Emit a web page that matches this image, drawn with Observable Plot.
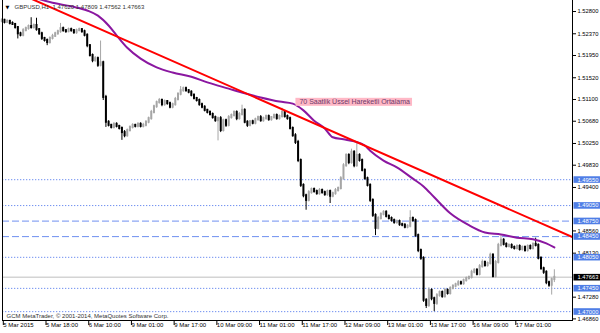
<!DOCTYPE html>
<html><head><meta charset="utf-8">
<script src="https://cdn.jsdelivr.net/npm/d3@7"></script>
<script src="https://cdn.jsdelivr.net/npm/@observablehq/plot@0.6"></script>
<style>body{margin:0;background:#fff}svg{display:block}</style>
</head><body><div id="chart"></div>
<script>
// ---- data (GBPUSD H1, 5 Mar 2015 – 17 Mar 2015) ----
const firstOpen = 1.5261;
const closes = [
1.5263,1.5259,1.5261,1.5257,1.5255,1.5249,1.5237,1.5234,1.5243,1.5247,1.5251,1.5249,1.5253,1.5245,1.5237,1.5228,
1.5224,1.5220,1.5228,1.5232,1.5237,1.5241,1.5247,1.5243,1.5241,1.5245,1.5243,1.5239,1.5243,1.5245,1.5241,1.5234,
1.5214,1.5195,1.5185,1.5189,1.5176,1.5181,1.5114,1.5066,1.5060,1.5056,1.5062,1.5058,1.5054,1.5046,1.5040,1.5050,
1.5056,1.5060,1.5058,1.5062,1.5058,1.5060,1.5066,1.5073,1.5085,1.5096,1.5104,1.5108,1.5100,1.5106,1.5102,1.5095,
1.5100,1.5110,1.5120,1.5127,1.5131,1.5127,1.5124,1.5118,1.5112,1.5108,1.5100,1.5095,1.5089,1.5085,1.5081,1.5075,
1.5069,1.5073,1.5050,1.5069,1.5060,1.5075,1.5079,1.5085,1.5073,1.5081,1.5089,1.5066,1.5060,1.5067,1.5064,1.5071,
1.5075,1.5069,1.5073,1.5077,1.5071,1.5075,1.5079,1.5073,1.5077,1.5085,1.5077,1.5073,1.5054,1.5040,1.5027,1.4992,
1.4944,1.4924,1.4915,1.4930,1.4936,1.4932,1.4928,1.4934,1.4930,1.4926,1.4932,1.4923,1.4928,1.4934,1.4938,1.4957,
1.4982,1.5002,1.4988,1.5008,1.4982,1.5002,1.4992,1.4973,1.4957,1.4944,1.4915,1.4886,1.4861,1.4880,1.4888,1.4892,
1.4884,1.4880,1.4876,1.4872,1.4874,1.4868,1.4867,1.4863,1.4865,1.4880,1.4876,1.4847,1.4818,1.4803,1.4722,1.4712,
1.4741,1.4725,1.4716,1.4731,1.4737,1.4729,1.4741,1.4735,1.4745,1.4749,1.4752,1.4756,1.4754,1.4760,1.4764,1.4766,
1.4776,1.4780,1.4772,1.4787,1.4795,1.4789,1.4793,1.4809,1.4768,1.4795,1.4828,1.4838,1.4830,1.4826,1.4828,1.4824,
1.4822,1.4826,1.4820,1.4824,1.4818,1.4826,1.4822,1.4830,1.4828,1.4803,1.4783,1.4776,1.4756,1.4751,1.4762,1.47663
];
// wick lengths above / below the candle body, in pips
const upWickPips = [
3,2,3,2,3,2,2,3,4,3,3,17,3,14,2,3, 2,3,3,4,3,3,10,3,2,3,3,2,3,3,2,3,
3,2,3,4,3,42,3,4,3,2,3,3,2,3,4,3, 3,3,2,3,3,4,3,3,4,3,3,4,3,3,2,3,
3,4,3,8,3,3,2,3,3,2,3,3,3,2,3,3, 3,3,4,3,3,4,3,3,3,4,10,3,3,2,3,3,
3,4,3,3,3,2,3,3,3,8,3,3,3,3,4,4, 3,3,3,4,3,3,3,4,3,3,3,3,3,4,3,4,
4,3,3,6,3,23,3,3,3,3,3,3,3,4,3,3, 3,3,3,3,3,3,3,3,3,15,3,3,3,3,3,3,
5,3,3,4,3,3,4,3,3,3,3,4,3,3,3,3, 4,3,3,4,5,3,3,4,3,4,4,8,3,3,3,3,
3,3,3,3,3,3,3,3,12,3,3,3,3,3,3,14.6
];
const downWickPips = [
3,3,2,3,2,3,10,3,3,2,3,3,3,3,3,4, 3,6,3,3,2,3,3,3,3,2,3,3,3,2,3,3,
4,3,4,3,4,3,6,10,3,3,3,3,3,15,4,3, 3,3,3,3,3,3,3,3,3,3,3,3,4,3,3,3,
3,3,3,3,3,3,3,3,3,3,3,3,3,3,3,3, 3,39,4,3,4,3,3,3,4,3,3,3,4,3,3,3,
3,3,3,3,3,3,3,3,3,3,3,3,3,3,4,4, 4,4,19,3,3,3,3,3,3,3,3,14,3,3,3,3,
3,3,4,3,4,3,3,3,3,3,4,4,14,3,3,3, 3,3,3,3,3,3,3,3,3,3,3,3,4,4,4,6,
4,4,16,4,3,3,3,3,3,3,3,3,3,3,3,3, 3,3,3,3,3,3,3,3,3,3,3,3,3,3,3,3,
3,3,3,3,3,3,3,3,3,3,3,4,4,4,19,5.8
];
// 70-hour exponential moving average
const emaBars   = [14,19,26,32,36,40,43,47,52,58,64,71,77,85,91,97,104,109,113,117,121,124,128,132,136,138,143,148,154,158,162,168,175,181,187,193,199,204,207];
const emaValues = [1.5304,1.5297,1.5290,1.5282,1.5272,1.5253,1.5234,1.5210,1.5189,1.5172,1.5162,1.5154,1.5143,1.5131,1.5122,1.5114,1.5106,1.5102,1.5089,1.5069,1.5054,1.5037,1.5033,1.5029,1.5021,1.5011,1.4992,1.4979,1.4957,1.4942,1.4921,1.4890,1.4867,1.4853,1.4849,1.4843,1.4840,1.4832,1.4824];
// red trend line
const trendBars = [10, 213.8];
const trendValues = [1.5307, 1.4844];
// horizontal levels
const dottedLevels = [1.4955, 1.4905, 1.4805, 1.4745, 1.4700];
const dashedLevels = [1.4875, 1.4845];
const lastPrice = 1.47663;
// axes (labels that sit fully behind a level box are left out)
const priceTicks = [1.5280,1.5237,1.5195,1.5152,1.5110,1.5068,1.5025,1.4983,1.4940,1.4856,1.4813,1.4728,1.4686];
const timeTickBars = [0,16,32,48,64,80,96,112,128,144,160,176,192];
const timeLabels = ["5 Mar 2015","5 Mar 18:00","6 Mar 10:00","9 Mar 01:00","9 Mar 17:00","10 Mar 09:00","11 Mar 01:00","11 Mar 17:00","12 Mar 09:00","13 Mar 01:00","13 Mar 17:00","16 Mar 09:00","17 Mar 01:00"];
const headerText = "GBPUSD,H1  1.47620 1.47809 1.47562 1.47663";
const maLabel = "70 Saatlik Üssel Hareketli Ortalama";
const maLabelAt = {bar: 111.5, price: 1.5105};
const copyright = "GCM MetaTrader, © 2001-2014, MetaQuotes Software Corp.";

// ---- build table ----
const bars = closes.map((c, i) => {
  const o = i === 0 ? firstOpen : closes[i - 1];
  return {i, o, c,
    h: Math.max(o, c) + upWickPips[i] * 0.0001,
    l: Math.min(o, c) - downWickPips[i] * 0.0001,
    up: c >= o};
});
const ema = emaBars.map((b, k) => ({b, v: emaValues[k]}));
const trend = trendBars.map((b, k) => ({b, v: trendValues[k]}));
const fmt = d3.format(".5f");
const FONT = "Liberation Sans, Arial, sans-serif";
const BULL = "#a6a6a6", BEAR = "#000000";
const LVL = "#6f8ff0";

const svg = Plot.plot({
  width: 600, height: 333,
  marginLeft: 2, marginRight: 28, marginTop: 0, marginBottom: 13,
  style: {fontFamily: FONT, background: "#fff", overflow: "visible"},
  x: {domain: [0.26, 213.8], axis: null},
  y: {domain: [1.46829, 1.53013], axis: null},
  marks: [
    Plot.ruleY(dottedLevels, {stroke: LVL, strokeWidth: 1, strokeDasharray: "1.3,1.7"}),
    Plot.ruleY(dashedLevels, {stroke: LVL, strokeWidth: 1, strokeDasharray: "7,3"}),
    Plot.ruleY([lastPrice], {stroke: "#d4d4d4", strokeWidth: 1.5}),
    Plot.ruleX(bars, {x: "i", y1: "l", y2: "h", stroke: d => d.up ? BULL : BEAR, strokeWidth: 1}),
    Plot.ruleX(bars, {x: "i", y1: "o", y2: "c", stroke: d => d.up ? BULL : BEAR, strokeWidth: 2, strokeLinecap: "square"}),
    Plot.line(ema, {x: "b", y: "v", stroke: "#8a17a0", strokeWidth: 2, curve: "monotone-x", clip: true}),
    Plot.line(trend, {x: "b", y: "v", stroke: "#ff0000", strokeWidth: 2, clip: true}),
    Plot.text([maLabel], {x: maLabelAt.bar, y: maLabelAt.price, text: d => d, textAnchor: "start", fontSize: 7, fill: "#6b3a6b", className: "malabel"}),
    Plot.text([headerText], {frameAnchor: "top-left", dx: 12, dy: 7, lineAnchor: "middle", textAnchor: "start", fontSize: 6, fill: "#333"}),
    Plot.text(["▼"], {frameAnchor: "top-left", dx: 3, dy: 7, lineAnchor: "middle", textAnchor: "start", fontSize: 5, fill: "#000", fontFamily: "DejaVu Sans"}),
    Plot.text([copyright], {frameAnchor: "bottom-left", dx: 4, dy: -4, lineAnchor: "middle", textAnchor: "start", fontSize: 6, fill: "#333"}),
    Plot.axisY({anchor: "right", ticks: priceTicks, tickFormat: fmt, tickSize: 3, tickPadding: 2, fontSize: 5.8, label: null, color: "#000"}),
    Plot.axisX({anchor: "bottom", ticks: timeTickBars, tickFormat: d => timeLabels[timeTickBars.indexOf(d)], tickSize: 5, tickPadding: -3, textAnchor: "start", dx: 1.5, fontSize: 6, label: null, color: "#000"}),
    Plot.frame({anchor: "left", stroke: "#000"}),
    Plot.frame({anchor: "right", stroke: "#000"}),
    Plot.frame({anchor: "bottom", stroke: "#000"}),
    Plot.text(dottedLevels.concat(dashedLevels), {x: 213.8, y: d => d, text: fmt, dx: 5, textAnchor: "start", fontSize: 5.8, fill: "#fff", className: "lvlbox"}),
    Plot.text([lastPrice], {x: 213.8, y: d => d, text: fmt, dx: 5, textAnchor: "start", fontSize: 5.8, fill: "#fff", className: "lastbox"})
  ]
});
document.getElementById("chart").append(svg);

function addBoxes(cls, fill, padL, padR, padV) {
  svg.querySelectorAll(`g.${cls} text`).forEach(t => {
    const b = t.getBBox();
    const r = document.createElementNS("http://www.w3.org/2000/svg", "rect");
    r.setAttribute("x", b.x - padL);
    r.setAttribute("y", b.y - padV);
    r.setAttribute("width", b.width + padL + padR);
    r.setAttribute("height", b.height + 2 * padV);
    r.setAttribute("fill", fill);
    const tr = t.getAttribute("transform");
    if (tr) r.setAttribute("transform", tr);
    t.parentNode.insertBefore(r, t);
  });
}
addBoxes("lvlbox", "#4f7ee6", 4, 1.5, 0.3);
addBoxes("lastbox", "#000", 4, 1.5, 0.3);
addBoxes("malabel", "#ffb8c6", 4, 2, 0.5);
</script></body></html>
